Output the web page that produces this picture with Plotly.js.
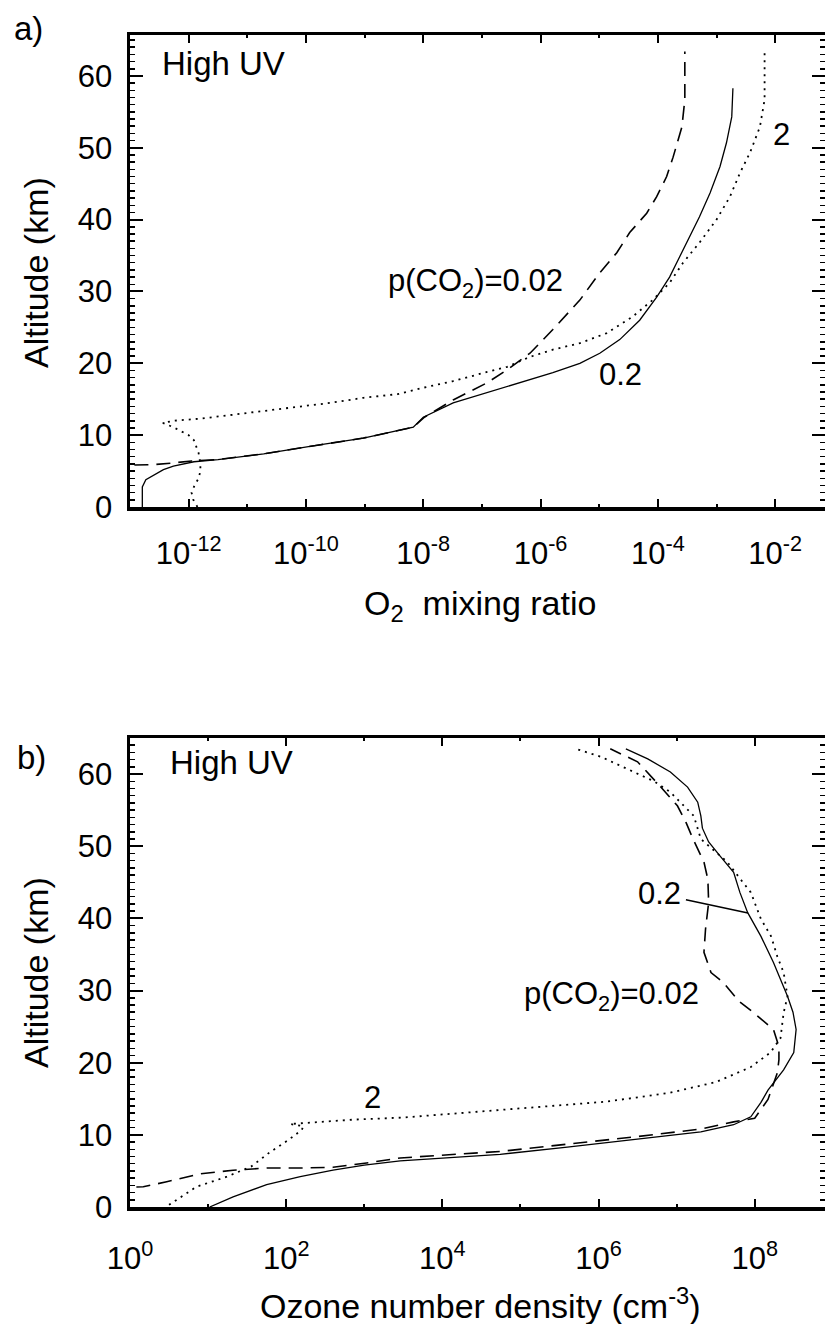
<!DOCTYPE html>
<html><head><meta charset="utf-8">
<script src="https://cdn.plot.ly/plotly-3.0.1.min.js"></script>
<style>html,body{margin:0;padding:0;background:#fff}#chart{width:825px;height:1324px}</style>
</head><body><div id="chart"></div>
<script>
// ---------- Panel a: O2 mixing ratio (values stored as log10) vs altitude (km) ----------
const aAlt_p002 = [5.8, 5.8, 5.9, 6.1, 6.4, 6.6, 7.4, 8.6, 9.6, 11.1, 12.5, 14.9, 17.3, 19.1, 21.4, 24.7, 28.8, 32.6, 35.4, 38.2, 40.9, 43.2, 46.0, 48.7, 52.9, 56.7, 63.4];
const aLog_p002 = [-13.3, -12.9, -12.6, -12.3, -11.95, -11.5, -10.72, -9.8, -9.02, -8.17, -7.98, -7.49, -6.91, -6.57, -6.18, -5.79, -5.33, -4.99, -4.70, -4.48, -4.19, -4.02, -3.85, -3.74, -3.59, -3.54, -3.54];

const aAlt_p02 = [0, 2.8, 3.8, 5.2, 5.7, 6.3, 6.6, 7.4, 8.6, 9.6, 11.1, 12.5, 14.5, 15.9, 17.3, 18.7, 20.0, 21.4, 23.3, 26.0, 29.2, 32.0, 34.8, 37.6, 40.4, 43.7, 47.4, 50.7, 54.3, 58.3];
const aLog_p02 = [-12.79, -12.79, -12.73, -12.43, -12.26, -11.91, -11.5, -10.72, -9.8, -9.02, -8.17, -8.0, -7.49, -6.91, -6.35, -5.79, -5.33, -4.99, -4.65, -4.31, -4.02, -3.80, -3.63, -3.46, -3.29, -3.11, -2.94, -2.83, -2.74, -2.72];

const aAlt_p2 = [0, 1, 2, 3, 4, 5, 6, 7.5, 9.3, 10, 11.1, 11.7, 12.0, 12.3, 12.8, 13.1, 13.6, 14.0, 14.5, 15.2, 15.7, 16.6, 17.5, 18.8, 19.5, 20.9, 21.9, 22.8, 24.2, 26.5, 28.8, 31.2, 34.0, 36.8, 40.0, 43.2, 46.5, 49.3, 52.9, 56.7, 63.4];
const aLog_p2 = [-11.85, -11.92, -11.95, -11.9, -11.83, -11.8, -11.8, -11.83, -11.91, -12.0, -12.26, -12.44, -12.26, -11.8, -11.29, -11.0, -10.43, -10.04, -9.58, -9.02, -8.44, -8.0, -7.5, -6.91, -6.57, -6.18, -5.79, -5.33, -4.87, -4.43, -4.09, -3.80, -3.57, -3.29, -3.0, -2.77, -2.60, -2.43, -2.26, -2.18, -2.18];

// ---------- Panel b: ozone number density (log10 of cm^-3) vs altitude (km) ----------
const bAlt_p002 = [2.7, 2.8, 3.5, 4.6, 5.1, 5.4, 5.4, 5.5, 6.1, 6.8, 7.7, 8.7, 9.7, 10.8, 11.8, 12.3, 14.9, 18.6, 20.4, 22.2, 24.6, 26.9, 28.5, 31.1, 32.5, 35.3, 38.5, 42.2, 45.4, 47.8, 51.0, 53.3, 55.6, 58.3, 61.7, 63.5];
const bLog_p002 = [-0.2, 0.17, 0.47, 0.9, 1.32, 1.75, 2.18, 2.6, 3.03, 3.46, 4.74, 5.6, 6.45, 7.31, 7.73, 8.0, 8.17, 8.29, 8.31, 8.31, 8.24, 7.99, 7.8, 7.6, 7.44, 7.35, 7.37, 7.41, 7.40, 7.35, 7.21, 7.12, 7.01, 6.79, 6.5, 6.15];

const bAlt_p02 = [0, 0.4, 1.4, 3.1, 4.2, 5.1, 5.8, 6.4, 7.3, 8.3, 9.3, 10.4, 11.4, 12.5, 14.5, 16.2, 19.0, 21.4, 24.6, 27.0, 29.2, 31.5, 33.9, 37.5, 40.8, 43.6, 46.4, 48.6, 50.6, 52.5, 54.2, 56.1, 58.2, 60.3, 62.1, 63.5];
const bLog_p02 = [1.02, 1.11, 1.32, 1.75, 2.18, 2.6, 3.0, 3.46, 4.74, 5.6, 6.45, 7.31, 7.73, 7.95, 8.08, 8.17, 8.37, 8.5, 8.53, 8.49, 8.42, 8.33, 8.24, 8.08, 7.91, 7.81, 7.73, 7.56, 7.41, 7.33, 7.31, 7.27, 7.14, 6.92, 6.63, 6.35];

const bAlt_p2 = [0.3, 2.8, 4.2, 5.6, 7.5, 9.3, 10.7, 11.2, 11.5, 12.1, 12.4, 13.1, 13.8, 14.6, 15.8, 17.3, 19.4, 21.4, 23.4, 26.9, 29.2, 32.5, 34.7, 37.5, 39.9, 43.6, 45.4, 47.8, 51.0, 54.2, 57.5, 59.0, 60.7, 62.4, 63.5];
const bLog_p2 = [0.5, 0.85, 1.24, 1.55, 1.78, 2.03, 2.2, 2.22, 2.05, 2.85, 3.5, 4.3, 5.15, 6.1, 6.9, 7.5, 7.95, 8.2, 8.33, 8.37, 8.42, 8.37, 8.29, 8.21, 8.08, 7.95, 7.82, 7.65, 7.31, 7.22, 6.92, 6.71, 6.37, 6.03, 5.71];

// ---------- Tick labels ----------
const aXTickVals = [1e-12, 1e-10, 1e-8, 1e-6, 1e-4, 1e-2];
const aXTickText = ['10<sup>-12</sup>', '10<sup>-10</sup>', '10<sup>-8</sup>', '10<sup>-6</sup>', '10<sup>-4</sup>', '10<sup>-2</sup>'];
const aXMinor = [1e-13, 1e-11, 1e-9, 1e-7, 1e-5, 1e-3];
const bXTickVals = [1, 1e2, 1e4, 1e6, 1e8];
const bXTickText = ['10<sup>0</sup>', '10<sup>2</sup>', '10<sup>4</sup>', '10<sup>6</sup>', '10<sup>8</sup>'];
const bXMinor = [10, 1e3, 1e5, 1e7];
const altTicks = [0, 10, 20, 30, 40, 50, 60];

const pow10 = arr => arr.map(v => Math.pow(10, v));

const W = 825, H = 1324;
const PX = x => x / W, PY = y => 1 - y / H;
const FAM = 'Liberation Sans, Arial, Helvetica, sans-serif';
const FS = 31;

const styleDash = {color: '#000', width: 1.6, dash: '14px,8px'};
const styleSolid = {color: '#000', width: 1.3, dash: 'solid'};
const styleDot = {color: '#000', width: 1.8, dash: '2px,5px'};

const traces = [
  {x: pow10(aLog_p002), y: aAlt_p002, xaxis: 'x', yaxis: 'y', mode: 'lines', line: styleDash, name: 'p(CO2)=0.02'},
  {x: pow10(aLog_p02), y: aAlt_p02, xaxis: 'x', yaxis: 'y', mode: 'lines', line: styleSolid, name: '0.2'},
  {x: pow10(aLog_p2), y: aAlt_p2, xaxis: 'x', yaxis: 'y', mode: 'lines', line: styleDot, name: '2'},
  {x: pow10(bLog_p002), y: bAlt_p002, xaxis: 'x2', yaxis: 'y2', mode: 'lines', line: styleDash, name: 'p(CO2)=0.02'},
  {x: pow10(bLog_p02), y: bAlt_p02, xaxis: 'x2', yaxis: 'y2', mode: 'lines', line: styleSolid, name: '0.2'},
  {x: pow10(bLog_p2), y: bAlt_p2, xaxis: 'x2', yaxis: 'y2', mode: 'lines', line: styleDot, name: '2'}
];

function xAxis(range, vals, text, minorVals, anchor, standoff) {
  return {
    type: 'log', domain: [PX(130), 1], range: range, anchor: anchor,
    tickmode: 'array', tickvals: vals, ticktext: text,
    ticks: 'inside', ticklen: 8, tickwidth: 2, tickcolor: '#000',
    showline: true, linewidth: 3.5, linecolor: '#000', mirror: 'ticks',
    showgrid: false, zeroline: false,
    minor: {tickmode: 'array', tickvals: minorVals, ticks: 'inside', ticklen: 3, tickwidth: 2, tickcolor: '#000', showgrid: false},
    tickfont: {family: FAM, size: FS, color: '#000'},
    ticklabelstandoff: standoff
  };
}
function yAxis(domain, range, anchor) {
  return {
    domain: domain, range: range, anchor: anchor,
    tickmode: 'array', tickvals: altTicks,
    ticks: 'inside', ticklen: 13, tickwidth: 2, tickcolor: '#000',
    showline: true, linewidth: 3.5, linecolor: '#000', mirror: 'ticks',
    showgrid: false, zeroline: false,
    minor: {dtick: 1, ticks: 'inside', ticklen: 5, tickwidth: 1.5, tickcolor: '#000', showgrid: false},
    tickfont: {family: FAM, size: FS, color: '#000'},
    ticklabelstandoff: 8
  };
}

const txt = (text, x, y, extra, size) => Object.assign({
  text: text, xref: 'paper', yref: 'paper', x: PX(x), y: PY(y),
  xanchor: 'center', yanchor: 'middle', showarrow: false,
  font: {family: FAM, size: size || FS, color: '#000'}
}, extra || {});

const layout = {
  width: W, height: H,
  margin: {l: 0, r: 0, t: 0, b: 0},
  paper_bgcolor: '#fff', plot_bgcolor: '#fff',
  showlegend: false,
  xaxis: xAxis([-13, -1.15], aXTickVals, aXTickText, aXMinor, 'y', 16),
  yaxis: yAxis([PY(507), PY(35)], [0, 65.7], 'x'),
  xaxis2: xAxis([0, 8.9], bXTickVals, bXTickText, bXMinor, 'y2', 21),
  yaxis2: yAxis([PY(1207), PY(738)], [0, 65], 'x2'),
  annotations: [
    txt('a)', 28, 28, null, 33),
    txt('b)', 31, 757, null, 33),
    txt('High UV', 160, 63, {xanchor: 'left'}, 33),
    txt('High UV', 168, 763, {xanchor: 'left'}, 33),
    txt('Altitude (km)', 36, 273, {textangle: -90}, 34),
    txt('Altitude (km)', 36, 973, {textangle: -90}, 34),
    txt('O<sub>2</sub>  mixing ratio', 480, 605, null, 34),
    txt('Ozone number density (cm<sup>-3</sup>)', 480, 1303, null, 34),
    txt('p(CO<sub>2</sub>)=0.02', 475, 283),
    txt('0.2', 620, 374),
    txt('2', 781, 134),
    txt('p(CO<sub>2</sub>)=0.02', 611, 996),
    txt('2', 372, 1097),
    {text: '0.2', xref: 'paper', yref: 'paper', x: PX(748), y: PY(913),
     axref: 'pixel', ayref: 'pixel', ax: -89, ay: -19, showarrow: true, arrowhead: 0,
     arrowwidth: 1.5, arrowcolor: '#000', standoff: 0, startstandoff: 4,
     font: {family: FAM, size: FS, color: '#000'}}
  ]
};

Plotly.newPlot('chart', traces, layout, {displayModeBar: false, staticPlot: true});
</script>
</body></html>
